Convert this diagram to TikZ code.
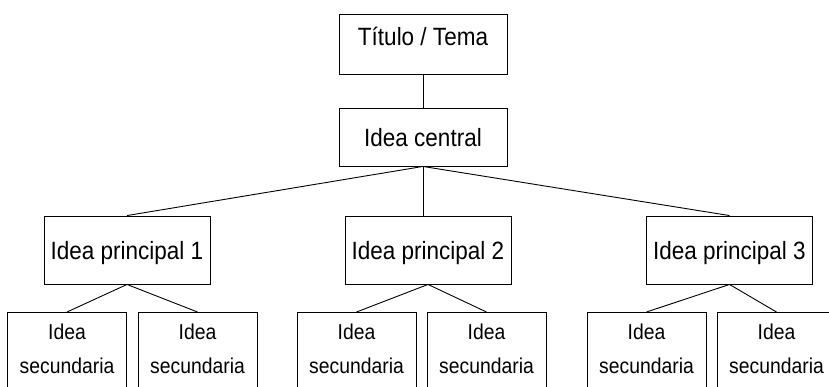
\documentclass[tikz,border=0pt]{standalone}
\usepackage{fontspec}
\setmainfont{Liberation Sans}[FakeStretch=0.9]

\tikzset{
  box/.style={draw, line width=0.9pt, inner sep=0pt, text height=18pt, text depth=0pt,
    font=\fontsize{25}{30}\selectfont},
  subbox/.style={draw, line width=0.9pt, anchor=north, align=center, inner xsep=0pt,
    inner ysep=11pt, minimum width=119pt, text height={}, text depth=60pt,
    font=\fontsize{21.5}{34}\selectfont},
  link/.style={line width=0.9pt}
}

\begin{document}
\begin{tikzpicture}[x=1pt, y=-1pt]
\useasboundingbox (0, 0) rectangle (829, 386);
\clip (0, 0) rectangle (829, 386);
\node [box, minimum width=168pt, minimum height=60pt, text depth=16pt] (title) at (423, 44) {Título / Tema};
\node [box, minimum width=168pt, minimum height=58pt] (central) at (423, 137) {Idea central};
\node [box, minimum width=166pt, minimum height=68pt] (p1) at (127, 250) {Idea principal 1};
\node [box, minimum width=166pt, minimum height=68pt] (p2) at (428, 250) {Idea principal 2};
\node [box, minimum width=166pt, minimum height=68pt] (p3) at (729.5, 250) {Idea principal 3};
\node [subbox] (s11) at (67, 312) {Idea\\secundaria};
\node [subbox] (s12) at (197.5, 312) {Idea\\secundaria};
\node [subbox] (s21) at (356.5, 312) {Idea\\secundaria};
\node [subbox] (s22) at (486.5, 312) {Idea\\secundaria};
\node [subbox] (s31) at (646.5, 312) {Idea\\secundaria};
\node [subbox] (s32) at (776.5, 312) {Idea\\secundaria};
\draw [link] (title) -- (central);
\draw [link] (central.south) -- (p1.north);
\draw [link] (central.south) -- (central.south |- p2.north);
\draw [link] (central.south) -- (p3.north);
\draw [link] (p1.south) -- (s11.north);
\draw [link] (p1.south) -- (s12.north);
\draw [link] (p2.south) -- (s21.north);
\draw [link] (p2.south) -- (s22.north);
\draw [link] (p3.south) -- (s31.north);
\draw [link] (p3.south) -- (s32.north);
\end{tikzpicture}
\end{document}
